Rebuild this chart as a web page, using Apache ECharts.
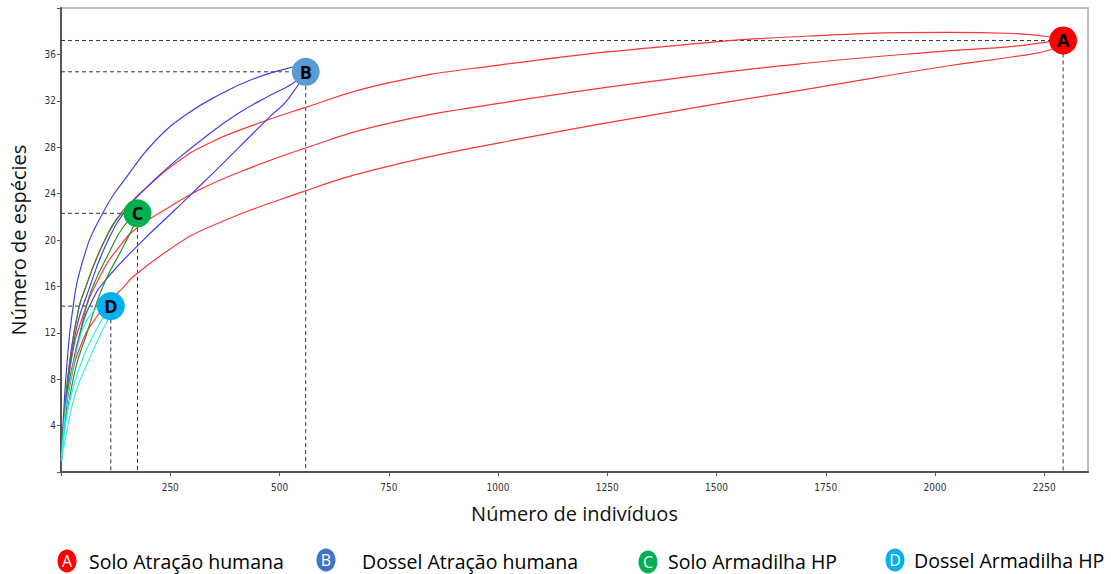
<!DOCTYPE html>
<html><head><meta charset="utf-8">
<script src="https://cdn.jsdelivr.net/npm/echarts@6/dist/echarts.min.js"></script>
<style>html,body{margin:0;padding:0;background:#fff}#c{width:1111px;height:574px}</style>
</head><body><div id="c"></div>
<script>
// ---- data ----
const markerLetters = ['A', 'B', 'C', 'D'];
const markerX = [2293, 560, 175, 114];
const markerY = [37.2, 34.5, 22.3, 14.3];
const legendLabels = ['Solo Atração humana', 'Dossel Atração humana', 'Solo Armadilha HP', 'Dossel Armadilha HP'];
const xTitle = 'Número de indivíduos';
const yTitle = 'Número de espécies';

// A: Solo Atração humana (upper, mean, lower)
const soloAtracaoSup = [[1,1],[8,5],[20,9.5],[40,14],[60,16.3],[80,18.3],[103,20.2],[137,22.3],[164,23.4],[183,24.1],[258,26.5],[336,28.3],[440,29.9],[549,31.3],[732,33.4],[1006,35.1],[1418,36.8],[1722,37.6],[2028,37.9],[2179,37.8],[2264,37.5],[2293,37.2]];
const soloAtracaoMed = [[1,1],[7,4.5],[23,9.5],[46,13.0],[91,17.0],[137,19.6],[176,21.1],[251,22.9],[320,24.4],[412,25.9],[549,27.8],[732,29.9],[1006,31.8],[1418,34.0],[1722,35.3],[2028,36.3],[2179,36.7],[2264,37.1],[2293,37.2]];
const soloAtracaoInf = [[1,1],[7,4.1],[23,8.0],[46,11.0],[80,13.3],[114,14.8],[142,15.9],[167,16.9],[245,19.1],[320,20.8],[549,24.1],[732,26.2],[1006,28.4],[1418,31.2],[1722,33.1],[2028,35.0],[2179,35.8],[2264,36.4],[2293,37.2]];
// B: Dossel Atração humana
const dosselAtracaoSup = [[1,1],[6,5],[14,9.5],[25,13.5],[46,17.7],[91,22.0],[167,26.3],[217,28.6],[286,30.8],[366,32.6],[441,33.9],[519,34.8],[542,34.95],[560,34.5]];
const dosselAtracaoMed = [[1,1],[7,4.1],[30,11.4],[69,16.3],[108,20.0],[153,22.8],[206,24.9],[252,26.5],[327,28.8],[405,30.9],[480,32.5],[530,33.5],[560,34.5]];
const dosselAtracaoInf = [[1,1],[7,3.7],[23,8.4],[46,12.3],[73,14.9],[103,16.6],[183,19.8],[258,22.5],[327,25.0],[405,27.9],[480,30.7],[519,32.1],[560,34.5]];
// C: Solo Armadilha HP
const soloArmadilhaSup = [[1,1],[8,5],[20,9.5],[40,14],[60,16.3],[80,18.3],[103,20.2],[125,21.7],[145,22.4],[160,22.5],[175,22.3]];
const soloArmadilhaMed = [[1,1],[7,4.5],[20,8],[34,10.3],[55,13.8],[73,16.0],[110,18.9],[142,21.1],[175,22.3]];
const soloArmadilhaInf = [[1,1],[8,3.8],[18,6.0],[35,9.2],[57,11.7],[80,14.4],[103,16.6],[142,19.4],[167,21.3],[175,22.3]];
// D: Dossel Armadilha HP
const dosselArmadilhaSup = [[1,1],[8,4.5],[15,6.5],[38,10.8],[61,13.2],[87,14.3],[100,14.6],[114,14.3]];
const dosselArmadilhaMed = [[1,1],[9,3.7],[18,5.8],[41,8.9],[69,11.4],[96,13.3],[114,14.3]];
const dosselArmadilhaInf = [[1,1],[11,3.1],[34,6.9],[64,9.7],[96,12.3],[110,13.4],[114,14.3]];

// ---- styles ----
const markerColors = ['#ff0000', '#5b9bd5', '#00b050', '#00b0f0'];
const legendColors = ['#ff0000', '#4472c4', '#00b050', '#00b0f0'];
const curveColors = ['#ff3535', '#4040f0', '#2f8f2f', '#35eeee'];
const FONT = "'Open Sans', 'Noto Sans', sans-serif";
const TICKFONT = "'Liberation Sans Narrow', 'DejaVu Sans Condensed', 'Liberation Sans', sans-serif";

const curveSets = [
  [soloAtracaoSup, soloAtracaoMed, soloAtracaoInf],
  [dosselAtracaoSup, dosselAtracaoMed, dosselAtracaoInf],
  [soloArmadilhaSup, soloArmadilhaMed, soloArmadilhaInf],
  [dosselArmadilhaSup, dosselArmadilhaMed, dosselArmadilhaInf]
];

const series = [];
// dashed reference lines built from marker coordinates
markerX.forEach((x, i) => {
  series.push({
    type: 'line', data: [[0, markerY[i]], [x, markerY[i]], [x, 0]],
    symbol: 'none', silent: true, z: 1,
    lineStyle: { color: '#333', width: 1, type: [4, 3] }
  });
});
curveSets.forEach((set, i) => {
  set.forEach(d => {
    series.push({
      type: 'line', data: d, symbol: 'none', smooth: 0.5,
      silent: true, z: 2, lineStyle: { color: curveColors[i], width: 1.2 }
    });
  });
});
series.push({
  type: 'scatter', z: 5, symbolSize: 28,
  data: markerX.map((x, i) => ({ value: [x, markerY[i]], itemStyle: { color: markerColors[i], opacity: 1 } })),
  label: {
    show: true, position: 'inside', color: '#000', fontWeight: 'bold', fontSize: 18, fontFamily: FONT,
    formatter: p => markerLetters[p.dataIndex]
  }
});

const legendPos = [[67, 561, 89, 561], [326, 560, 362, 561], [648, 562, 668, 561], [895, 560, 914, 560]];
const graphics = [];
legendLabels.forEach((lab, i) => {
  const p = legendPos[i];
  graphics.push({ type: 'ellipse', shape: { cx: p[0], cy: p[1], rx: 9.5, ry: 11.5 }, style: { fill: legendColors[i] } });
  graphics.push({ type: 'text', x: p[0], y: p[1], style: { text: markerLetters[i], fill: '#fff', fontSize: 16, fontWeight: 'normal', fontFamily: FONT, align: 'center', verticalAlign: 'middle' } });
  graphics.push({ type: 'text', x: p[2], y: p[3], style: { text: lab, fill: '#000', fontSize: 19.5, fontFamily: FONT, align: 'left', verticalAlign: 'middle' } });
});

const chart = echarts.init(document.getElementById('c'), null, { renderer: 'svg' });
chart.setOption({
  animation: false,
  backgroundColor: '#fff',
  grid: { left: 60, right: 23, top: 8, bottom: 102, show: true, borderColor: '#a8a8a8', borderWidth: 1.5, backgroundColor: 'transparent' },
  xAxis: {
    type: 'value', min: 0, max: 2350, interval: 250,
    axisLine: { show: true, lineStyle: { color: '#555', width: 2 } },
    axisTick: { show: true, length: 4, lineStyle: { color: '#555' } },
    splitLine: { show: false },
    axisLabel: { fontSize: 10, color: '#333', margin: 10, fontFamily: TICKFONT, showMaxLabel: false,
      formatter: v => (v === 0 || v % 250 !== 0) ? '' : String(v) },
    name: xTitle, nameLocation: 'middle', nameGap: 31,
    nameTextStyle: { fontSize: 20, color: '#111', fontFamily: FONT }
  },
  yAxis: {
    type: 'value', min: 0, max: 40, interval: 4,
    axisLine: { show: true, lineStyle: { color: '#555', width: 2 } },
    axisTick: { show: true, length: 4, lineStyle: { color: '#555' } },
    splitLine: { show: false },
    axisLabel: { fontSize: 10, color: '#333', margin: 5, fontFamily: TICKFONT,
      formatter: v => (v === 0 || v === 40) ? '' : String(v) },
    name: yTitle, nameLocation: 'middle', nameGap: 33,
    nameTextStyle: { fontSize: 20, color: '#111', fontFamily: FONT }
  },
  graphic: graphics,
  series: series
});
</script>
</body></html>
